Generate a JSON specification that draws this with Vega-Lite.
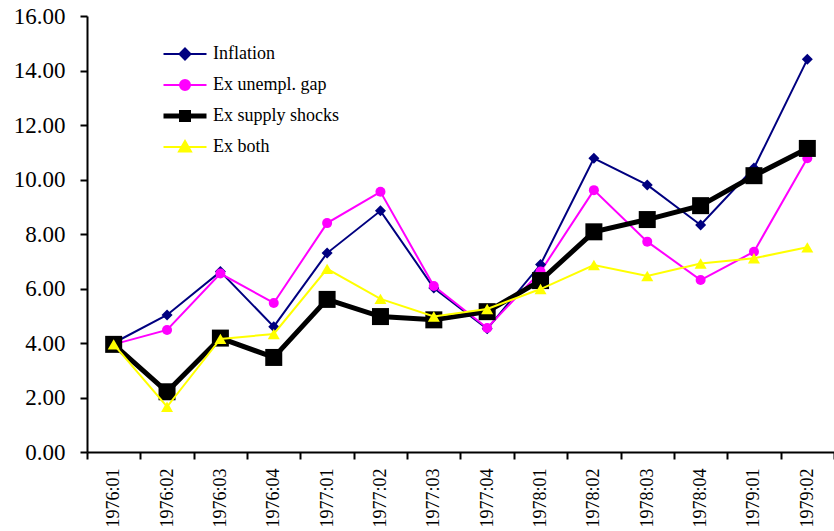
{
  "$schema": "https://vega.github.io/schema/vega-lite/v6.json",
  "autosize": {"type": "none"},
  "padding": {"left": 87, "top": 16, "right": 0, "bottom": 79},
  "width": 747,
  "height": 436,
  "background": "white",
  "config": {
    "view": {"stroke": null},
    "axis": {
      "domainColor": "black", "domainWidth": 2, "tickColor": "black", "tickWidth": 2,
      "labelColor": "black", "labelFont": "Liberation Serif", "grid": false, "title": null
    }
  },
  "data": {"values": [
    {"q": "1976:01", "s": "Inflation", "v": 4.00},
    {"q": "1976:02", "s": "Inflation", "v": 5.03},
    {"q": "1976:03", "s": "Inflation", "v": 6.62},
    {"q": "1976:04", "s": "Inflation", "v": 4.60},
    {"q": "1977:01", "s": "Inflation", "v": 7.30},
    {"q": "1977:02", "s": "Inflation", "v": 8.85},
    {"q": "1977:03", "s": "Inflation", "v": 6.02},
    {"q": "1977:04", "s": "Inflation", "v": 4.52},
    {"q": "1978:01", "s": "Inflation", "v": 6.88},
    {"q": "1978:02", "s": "Inflation", "v": 10.78},
    {"q": "1978:03", "s": "Inflation", "v": 9.80},
    {"q": "1978:04", "s": "Inflation", "v": 8.33},
    {"q": "1979:01", "s": "Inflation", "v": 10.42},
    {"q": "1979:02", "s": "Inflation", "v": 14.41},
    {"q": "1976:01", "s": "Ex unempl. gap", "v": 3.95},
    {"q": "1976:02", "s": "Ex unempl. gap", "v": 4.48},
    {"q": "1976:03", "s": "Ex unempl. gap", "v": 6.55},
    {"q": "1976:04", "s": "Ex unempl. gap", "v": 5.47},
    {"q": "1977:01", "s": "Ex unempl. gap", "v": 8.40},
    {"q": "1977:02", "s": "Ex unempl. gap", "v": 9.55},
    {"q": "1977:03", "s": "Ex unempl. gap", "v": 6.09},
    {"q": "1977:04", "s": "Ex unempl. gap", "v": 4.55},
    {"q": "1978:01", "s": "Ex unempl. gap", "v": 6.62},
    {"q": "1978:02", "s": "Ex unempl. gap", "v": 9.61},
    {"q": "1978:03", "s": "Ex unempl. gap", "v": 7.72},
    {"q": "1978:04", "s": "Ex unempl. gap", "v": 6.31},
    {"q": "1979:01", "s": "Ex unempl. gap", "v": 7.35},
    {"q": "1979:02", "s": "Ex unempl. gap", "v": 10.78},
    {"q": "1976:01", "s": "Ex supply shocks", "v": 3.95},
    {"q": "1976:02", "s": "Ex supply shocks", "v": 2.21},
    {"q": "1976:03", "s": "Ex supply shocks", "v": 4.18},
    {"q": "1976:04", "s": "Ex supply shocks", "v": 3.47},
    {"q": "1977:01", "s": "Ex supply shocks", "v": 5.60},
    {"q": "1977:02", "s": "Ex supply shocks", "v": 4.97},
    {"q": "1977:03", "s": "Ex supply shocks", "v": 4.85},
    {"q": "1977:04", "s": "Ex supply shocks", "v": 5.15},
    {"q": "1978:01", "s": "Ex supply shocks", "v": 6.29},
    {"q": "1978:02", "s": "Ex supply shocks", "v": 8.08},
    {"q": "1978:03", "s": "Ex supply shocks", "v": 8.53},
    {"q": "1978:04", "s": "Ex supply shocks", "v": 9.04},
    {"q": "1979:01", "s": "Ex supply shocks", "v": 10.14},
    {"q": "1979:02", "s": "Ex supply shocks", "v": 11.14},
    {"q": "1976:01", "s": "Ex both", "v": 3.95},
    {"q": "1976:02", "s": "Ex both", "v": 1.66},
    {"q": "1976:03", "s": "Ex both", "v": 4.15},
    {"q": "1976:04", "s": "Ex both", "v": 4.33},
    {"q": "1977:01", "s": "Ex both", "v": 6.72},
    {"q": "1977:02", "s": "Ex both", "v": 5.62},
    {"q": "1977:03", "s": "Ex both", "v": 4.97},
    {"q": "1977:04", "s": "Ex both", "v": 5.25},
    {"q": "1978:01", "s": "Ex both", "v": 5.98},
    {"q": "1978:02", "s": "Ex both", "v": 6.86},
    {"q": "1978:03", "s": "Ex both", "v": 6.46},
    {"q": "1978:04", "s": "Ex both", "v": 6.92},
    {"q": "1979:01", "s": "Ex both", "v": 7.11},
    {"q": "1979:02", "s": "Ex both", "v": 7.51}
  ]},
  "encoding": {
    "x": {
      "field": "q", "type": "ordinal",
      "scale": {"type": "band", "paddingInner": 0, "paddingOuter": 0},
      "axis": {"labelAngle": -90, "labelAlign": "right", "labelBaseline": "middle", "tickBand": "extent", "tickSize": 7, "labelPadding": 9, "labelFontSize": 18, "labelFont": "Liberation Serif"}
    },
    "y": {
      "field": "v", "type": "quantitative",
      "scale": {"domain": [0, 16], "nice": false, "zero": true},
      "axis": {"values": [0, 2, 4, 6, 8, 10, 12, 14, 16], "format": ".2f", "tickSize": 7, "labelPadding": 15, "labelFontSize": 23, "labelFont": "Liberation Serif"}
    },
    "color": {
      "field": "s", "type": "nominal",
      "scale": {"domain": ["Inflation", "Ex unempl. gap", "Ex supply shocks", "Ex both"], "range": ["#000080", "#FF00FF", "#000000", "#FFFF00"]},
      "legend": {
        "orient": "none", "legendX": 89, "legendY": 29, "title": null, "padding": 0,
        "symbolType": "circle", "symbolSize": 100, "symbolStrokeWidth": 2,
        "labelFont": "Liberation Serif", "labelFontSize": 18, "labelColor": "black",
        "labelOffset": 19, "rowPadding": 3, "gridAlign": "all",
        "encode": {"symbols": {"update": {
          "size": {"value": 100},
          "opacity": {"value": 1},
          "fill": {"scale": "color", "field": "value"},
          "stroke": {"scale": "color", "field": "value"},
          "strokeWidth": {"signal": "datum.value === 'Ex supply shocks' ? 5 : 2"},
          "shape": {"signal": "datum.value === 'Inflation' ? 'M-4.3,0H4.3M0,-1.1L1.1,0L0,1.1L-1.1,0Z' : datum.value === 'Ex unempl. gap' ? 'M-4.3,0H4.3M-1,0A1,1,0,1,0,1,0A1,1,0,1,0,-1,0Z' : datum.value === 'Ex supply shocks' ? 'M-4.3,0H4.3M-0.7,-0.7H0.7V0.7H-0.7Z' : 'M-4.3,0H4.3M0,-1.2L1.2,0.9L-1.2,0.9Z'"}
        }}}
      }
    }
  },
  "layer": [
    {
      "transform": [{"filter": {"field": "s", "oneOf": ["Inflation", "Ex unempl. gap"]}}],
      "mark": {"type": "line", "strokeWidth": 2}
    },
    {
      "transform": [{"filter": {"field": "s", "equal": "Inflation"}}],
      "mark": {"type": "point", "filled": true, "opacity": 1, "shape": "diamond", "size": 121}
    },
    {
      "transform": [{"filter": {"field": "s", "equal": "Ex unempl. gap"}}],
      "mark": {"type": "point", "filled": true, "opacity": 1, "shape": "circle", "size": 100}
    },
    {
      "transform": [{"filter": {"field": "s", "equal": "Ex supply shocks"}}],
      "mark": {"type": "line", "strokeWidth": 5}
    },
    {
      "transform": [{"filter": {"field": "s", "equal": "Ex supply shocks"}}],
      "mark": {"type": "point", "filled": true, "opacity": 1, "shape": "square", "size": 289}
    },
    {
      "transform": [{"filter": {"field": "s", "equal": "Ex both"}}],
      "mark": {"type": "line", "strokeWidth": 2}
    },
    {
      "transform": [{"filter": {"field": "s", "equal": "Ex both"}}],
      "mark": {"type": "point", "filled": true, "opacity": 1, "shape": "triangle-up", "size": 144}
    }
  ]
}
